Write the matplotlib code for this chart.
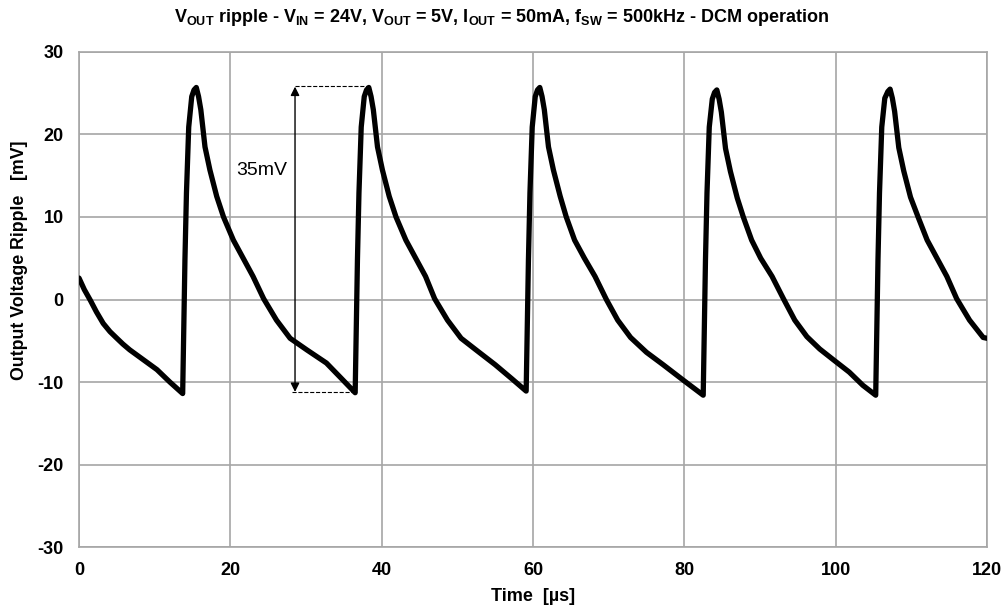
import matplotlib
matplotlib.use("Agg")
import matplotlib.pyplot as plt

plt.rcParams['font.family'] = ['Liberation Sans', 'DejaVu Sans']
plt.rcParams['mathtext.fontset'] = 'custom'
plt.rcParams['mathtext.rm'] = 'Liberation Sans'
plt.rcParams['mathtext.bf'] = 'Liberation Sans:bold'
plt.rcParams['axes.unicode_minus'] = False

# time [us] and ripple [mV] (five switching cycles)
time_us = [0.0, 0.7, 1.5, 2.3, 3.2, 4.1, 5.0, 5.8, 6.7, 8.5, 10.3, 12.0, 13.7,
           14.0, 14.2, 14.5, 14.9, 15.2, 15.5, 15.8, 16.1, 16.65, 17.3, 18.2, 19.1, 20.4, 21.7, 23.0, 24.4,
           26.1, 27.9, 30.1, 32.7, 34.5, 36.5,
           36.8, 37.0, 37.3, 37.7, 38.0, 38.3, 38.6, 38.9, 39.45, 40.1, 41.0, 41.9, 43.2, 44.5, 45.8, 47.0,
           48.7, 50.5, 52.6, 55.0, 57.2, 59.1,
           59.4, 59.6, 59.9, 60.3, 60.6, 60.9, 61.2, 61.5, 62.05, 62.7, 63.6, 64.4, 65.5, 66.8, 68.2, 69.7,
           71.2, 72.9, 75.0, 77.2, 79.9, 82.5,
           82.8, 83.0, 83.3, 83.7, 84.0, 84.3, 84.6, 84.9, 85.45, 86.1, 87.0, 87.8, 88.9, 90.1, 91.6, 93.1,
           94.6, 96.2, 97.9, 99.7, 101.8, 103.6, 105.3,
           105.6, 105.8, 106.1, 106.5, 106.9, 107.2, 107.5, 107.8, 108.35, 109.0, 109.9, 110.9, 112.1, 113.4,
           114.7, 116.0, 117.7, 119.5, 120.0]
ripple_mv = [2.6, 1.2, -0.1, -1.5, -2.9, -3.9, -4.7, -5.4, -6.1, -7.3, -8.5, -10.0, -11.4,
             4.8, 12.9, 20.9, 24.6, 25.4, 25.7, 24.6, 23.0, 18.5, 15.7, 12.5, 10.0, 7.2, 5.0, 2.8, 0.1,
             -2.5, -4.7, -6.1, -7.7, -9.4, -11.3,
             4.8, 12.9, 20.9, 24.6, 25.4, 25.7, 24.6, 23.0, 18.5, 15.7, 12.5, 10.0, 7.2, 5.0, 2.8, 0.1,
             -2.5, -4.7, -6.2, -7.9, -9.6, -11.1,
             4.8, 12.9, 20.9, 24.6, 25.4, 25.7, 24.6, 23.0, 18.5, 15.7, 12.5, 10.0, 7.2, 5.0, 2.8, 0.0,
             -2.5, -4.6, -6.4, -7.9, -9.8, -11.6,
             4.8, 12.9, 20.9, 24.3, 25.1, 25.4, 24.3, 22.7, 18.3, 15.5, 12.3, 10.0, 7.2, 5.0, 2.8, 0.1,
             -2.5, -4.5, -6.0, -7.3, -8.8, -10.4, -11.6,
             4.8, 12.9, 20.9, 24.4, 25.2, 25.5, 24.4, 22.8, 18.4, 15.6, 12.4, 10.0, 7.2, 5.0,
             2.8, 0.1, -2.5, -4.6, -4.7]

x_ticks = [0, 20, 40, 60, 80, 100, 120]
y_ticks = [-30, -20, -10, 0, 10, 20, 30]

fig = plt.figure(figsize=(10.04, 6.08), dpi=100)
ax = fig.add_axes([0.0787, 0.1003, 0.9043, 0.8142])

ax.plot(time_us, ripple_mv, color='black', lw=3.8, solid_joinstyle='round', solid_capstyle='round', zorder=3)

# peak-to-peak marker
ax.annotate('', xy=(28.55, 25.8), xytext=(28.55, -11.2),
            arrowprops=dict(arrowstyle='<|-|>', color='black', lw=1, mutation_scale=13, shrinkA=0, shrinkB=0))
ax.plot([28.55, 38.0], [25.85, 25.85], color='black', ls='--', lw=0.8)
ax.plot([28.1, 36.2], [-11.25, -11.25], color='black', ls='--', lw=0.8)
ax.text(24.2, 15.6, '35mV', fontsize=14, ha='center', va='center')

ax.set_xlim(0, 120)
ax.set_ylim(-30, 30)
ax.set_xticks(x_ticks)
ax.set_yticks(y_ticks)
ax.tick_params(length=0, labelsize=13, pad=11)
for lab in ax.get_xticklabels() + ax.get_yticklabels():
    lab.set_fontweight('bold')
ax.grid(True, color='#a6a6a6', lw=1.2)
ax.set_axisbelow(True)
for sp in ax.spines.values():
    sp.set_color('#a6a6a6')
    sp.set_linewidth(1.2)

ax.set_xlabel('Time  [µs]', fontsize=13, fontweight='bold', labelpad=6)
ax.set_ylabel('Output Voltage Ripple   [mV]', fontsize=12.8, fontweight='bold')
ax.yaxis.set_label_coords(-0.056, 0.58)

fig.text(0.5, 0.971,
         r'$\mathbf{V_{OUT}}$ ripple - $\mathbf{V_{IN}}$ = 24V, $\mathbf{V_{OUT}}$ = 5V, '
         r'$\mathbf{I_{OUT}}$ = 50mA, $\mathbf{f_{SW}}$ = 500kHz - DCM operation',
         ha='center', va='center', fontsize=13, fontweight='bold')

fig.savefig('out.png', dpi=100)
